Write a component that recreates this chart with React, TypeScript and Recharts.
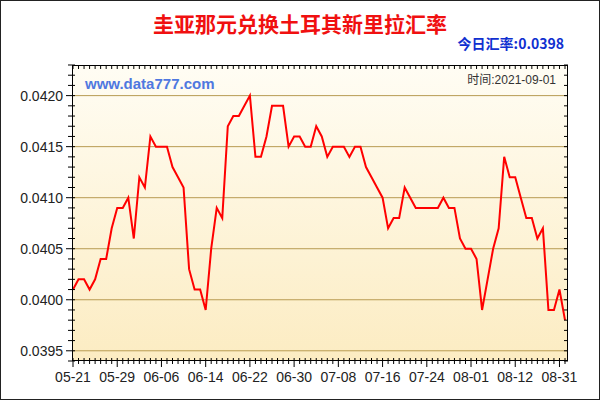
import { LineChart, Line, XAxis, YAxis, CartesianGrid, ReferenceLine } from 'recharts';

const dates = [
  '05-21', '05-22', '05-23', '05-24', '05-25', '05-26', '05-27', '05-28', '05-29', '05-30', '05-31',
  '06-01', '06-02', '06-03', '06-04', '06-05', '06-06', '06-07', '06-08', '06-09', '06-10',
  '06-11', '06-12', '06-13', '06-14', '06-15', '06-16', '06-17', '06-18', '06-19', '06-20',
  '06-21', '06-22', '06-23', '06-24', '06-25', '06-26', '06-27', '06-28', '06-29', '06-30',
  '07-01', '07-02', '07-03', '07-04', '07-05', '07-06', '07-07', '07-08', '07-09', '07-10',
  '07-11', '07-12', '07-13', '07-14', '07-15', '07-16', '07-17', '07-18', '07-19', '07-20',
  '07-21', '07-22', '07-23', '07-24', '07-25', '07-26', '07-27', '07-28', '07-29', '07-30',
  '07-31', '08-01', '08-03', '08-04', '08-05', '08-06', '08-09', '08-10', '08-11', '08-12',
  '08-13', '08-16', '08-17', '08-18', '08-20', '08-23', '08-26', '08-31', '09-01',
];

const rates = [
  0.0401, 0.0402, 0.0402, 0.0401, 0.0402, 0.0404, 0.0404, 0.0407, 0.0409, 0.0409,
  0.041, 0.0406, 0.0412, 0.0411, 0.0416, 0.0415, 0.0415, 0.0415, 0.0413, 0.0412,
  0.0411, 0.0403, 0.0401, 0.0401, 0.0399, 0.0405, 0.0409, 0.0408, 0.0417, 0.0418,
  0.0418, 0.0419, 0.042, 0.0414, 0.0414, 0.0416, 0.0419, 0.0419, 0.0419, 0.0415,
  0.0416, 0.0416, 0.0415, 0.0415, 0.0417, 0.0416, 0.0414, 0.0415, 0.0415, 0.0415,
  0.0414, 0.0415, 0.0415, 0.0413, 0.0412, 0.0411, 0.041, 0.0407, 0.0408, 0.0408,
  0.0411, 0.041, 0.0409, 0.0409, 0.0409, 0.0409, 0.0409, 0.041, 0.0409, 0.0409,
  0.0406, 0.0405, 0.0405, 0.0404, 0.0399, 0.0402, 0.0405, 0.0407, 0.0414, 0.0412,
  0.0412, 0.041, 0.0408, 0.0408, 0.0406, 0.0407, 0.0399, 0.0399, 0.0401, 0.0398,
];

// gridlines + labelled ticks, minor ticks every 0.0001
const gridValues = [0.0395, 0.04, 0.0405, 0.041, 0.0415, 0.042];
const yTicks = Array.from({ length: 30 }, (_, i) => (394 + i) / 10000);

const PLOT = { left: 72, right: 568, top: 65, bottom: 361 };
const FONT = 'Arial, "Liberation Sans", sans-serif';

const data = dates.map((d, i) => ({ date: d, rate: rates[i] }));

function XTick({ x, y, payload, index }: any) {
  const major = index % 8 === 0;
  return (
    <g>
      <line x1={x} x2={x} y1={y - 3} y2={y + (major ? 6 : 3)} stroke="#000" />
      <line x1={x} x2={x} y1={PLOT.top} y2={PLOT.top + 4} stroke="#000" />
      {major && (
        <text x={x} y={y + 21} textAnchor="middle" fontSize={14} fontFamily={FONT} fill="#222">
          {payload.value}
        </text>
      )}
    </g>
  );
}

function YTick({ x, y, payload }: any) {
  const v = payload.value;
  const major = Math.round(v * 10000) % 5 === 0;
  return (
    <g>
      <line x1={x - (major ? 6 : 4)} x2={x + 3} y1={y} y2={y} stroke="#000" />
      <line x1={PLOT.right - 4} x2={PLOT.right} y1={y} y2={y} stroke="#000" />
      {major && (
        <text x={x - 9} y={y} dy={5} textAnchor="end" fontSize={14} fontFamily={FONT} fill="#222">
          {v.toFixed(4)}
        </text>
      )}
    </g>
  );
}

export default function App() {
  return (
    <div style={{ position: 'absolute', left: 0, top: 0, width: 600, height: 400, background: '#fff', fontFamily: FONT }}>
      <LineChart
        width={600}
        height={400}
        data={data}
        margin={{ top: PLOT.top, right: 600 - PLOT.right, left: 12, bottom: 9 }}
      >
        <defs>
          <linearGradient id="bg" x1="0" y1="0" x2="0" y2="1">
            <stop offset="0" stopColor="#fffdf4" />
            <stop offset="1" stopColor="#fcecc2" />
          </linearGradient>
        </defs>
        <CartesianGrid horizontal={false} vertical={false} fill="url(#bg)" stroke="none" />
        {gridValues.map((v) => (
          <ReferenceLine key={v} y={v} stroke="#b89b52" strokeWidth={1} />
        ))}
        <XAxis
          dataKey="date"
          interval={0}
          height={30}
          tickLine={false}
          tickSize={0}
          tickMargin={0}
          axisLine={false}
          padding={{ left: 1, right: 3 }}
          tick={<XTick />}
        />
        <YAxis
          width={60}
          domain={[0.0394, 0.0423]}
          ticks={yTicks}
          interval={0}
          tickLine={false}
          tickSize={0}
          tickMargin={0}
          axisLine={false}
          allowDataOverflow
          tick={<YTick />}
        />
        <Line
          type="linear"
          dataKey="rate"
          stroke="#ff0000"
          strokeWidth={2}
          dot={false}
          isAnimationActive={false}
        />
      </LineChart>

      {/* plot frame */}
      <div
        style={{
          position: 'absolute',
          left: PLOT.left,
          top: PLOT.top,
          width: PLOT.right - PLOT.left,
          height: PLOT.bottom - PLOT.top,
          border: '1px solid #000',
          boxSizing: 'border-box',
          pointerEvents: 'none',
        }}
      />
      {/* outer frame */}
      <div
        style={{
          position: 'absolute',
          inset: 0,
          border: '1px solid #222',
          boxSizing: 'border-box',
          pointerEvents: 'none',
        }}
      />

      <div
        style={{
          position: 'absolute',
          left: 0,
          width: 600,
          top: 12,
          textAlign: 'center',
          fontSize: 21,
          lineHeight: '22px',
          fontWeight: 'bold',
          color: '#f01010',
          fontFamily: '"Noto Sans CJK SC", sans-serif',
        }}
      >
        圭亚那元兑换土耳其新里拉汇率
      </div>
      <div
        style={{
          position: 'absolute',
          right: 600 - 564,
          top: 35,
          fontSize: 14,
          lineHeight: '16px',
          fontWeight: 'bold',
          color: '#1030d0',
          fontFamily: '"Noto Sans CJK SC", Arial, sans-serif',
        }}
      >
        今日汇率:0.0398
      </div>
      <div
        style={{
          position: 'absolute',
          left: 85,
          top: 75,
          fontSize: 15,
          lineHeight: '18px',
          fontWeight: 'bold',
          color: '#4f78e0',
        }}
      >
        www.data777.com
      </div>
      <div
        style={{
          position: 'absolute',
          right: 600 - 556,
          top: 73,
          fontSize: 12,
          lineHeight: '14px',
          color: '#333',
          fontFamily: 'Arial, "Noto Sans CJK SC", sans-serif',
        }}
      >
        时间:2021-09-01
      </div>
    </div>
  );
}
